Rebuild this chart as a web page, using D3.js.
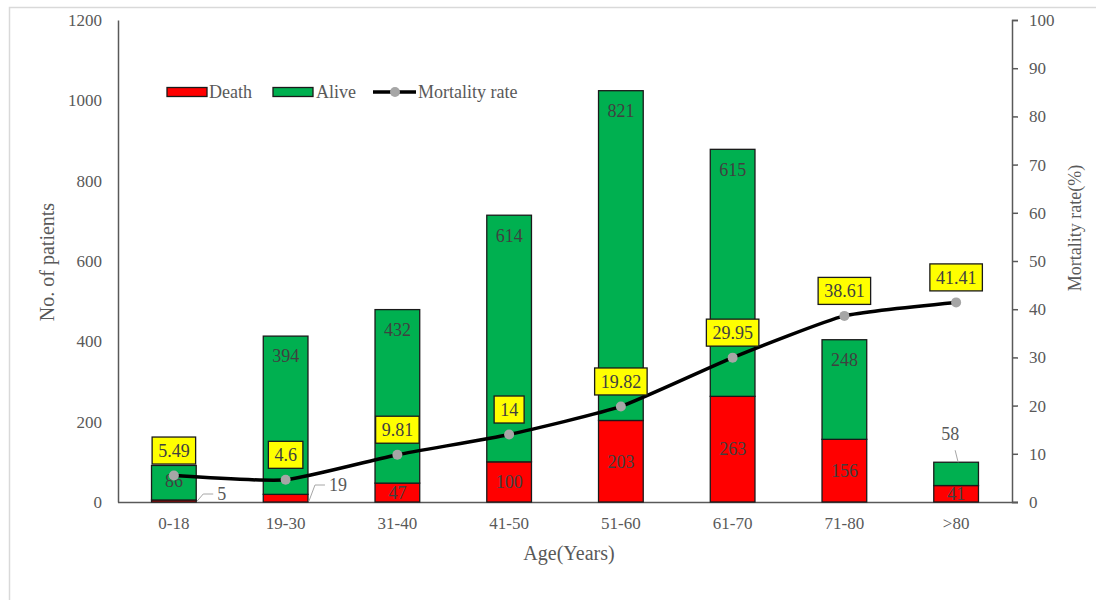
<!DOCTYPE html>
<html><head><meta charset="utf-8">
<script src="https://cdn.jsdelivr.net/npm/d3@7"></script>
<style>
html,body{margin:0;padding:0;background:#fff;}
svg{display:block;font-family:"Liberation Serif","Times New Roman",serif;}
</style></head>
<body><svg id="c" width="1096" height="600"></svg>
<script>
const categories = ["0-18","19-30","31-40","41-50","51-60","61-70","71-80",">80"];
const deathValues = [5,19,47,100,203,263,156,41];
const aliveValues = [86,394,432,614,821,615,248,58];
const mortalityRate = [5.49,4.6,9.81,14,19.82,29.95,38.61,41.41];
const leftTicks = [0,200,400,600,800,1000,1200];
const rightTicks = [0,10,20,30,40,50,60,70,80,90,100];

const svg = d3.select("#c");
const L = 118, R = 1012, T = 20, B = 502;
const tickColor = "#595959", labColor = "#404040";
const fs = 17, fl = 18;

// frame
svg.append("rect").attr("x",9.5).attr("y",7.5).attr("width",1100).attr("height",600)
  .attr("fill","none").attr("stroke","#d9d9d9").attr("stroke-width",1.5);

const x = d3.scaleBand().domain(categories).range([L,R]).paddingInner(0.6).paddingOuter(0.3);
const yL = d3.scaleLinear().domain([0,1200]).range([B,T]);
const yR = d3.scaleLinear().domain([0,100]).range([B,T]);

// left axis
const gl = svg.append("g").attr("transform",`translate(${L},0)`)
  .call(d3.axisLeft(yL).tickValues(leftTicks).tickFormat(d3.format("d")).tickSize(0).tickPadding(16));
gl.select(".domain").attr("stroke",tickColor).attr("stroke-width",1.5);
gl.selectAll("text").attr("font-family","Liberation Serif").attr("font-size",fs).attr("fill",tickColor);

// right axis
const gr = svg.append("g").attr("transform",`translate(${R},0)`)
  .call(d3.axisRight(yR).tickValues(rightTicks).tickFormat(d3.format("d")).tickSize(6).tickSizeOuter(6).tickPadding(11));
gr.select(".domain").attr("stroke",tickColor).attr("stroke-width",1.5);
gr.selectAll(".tick line").attr("stroke",tickColor).attr("stroke-width",1.5);
gr.selectAll("text").attr("font-family","Liberation Serif").attr("font-size",fs).attr("fill",tickColor);

// bottom axis
const gb = svg.append("g").attr("transform",`translate(0,${B})`)
  .call(d3.axisBottom(x).tickSize(0).tickSizeOuter(0).tickPadding(15));
gb.select(".domain").attr("d",`M${L},0.5H${R+6}`).attr("stroke",tickColor).attr("stroke-width",1.5);
gb.selectAll("text").attr("font-family","Liberation Serif").attr("font-size",fs).attr("fill",tickColor);

// axis titles
svg.append("text").attr("transform","translate(54,262) rotate(-90)").attr("text-anchor","middle")
  .attr("font-size",20).attr("fill",tickColor).text("No. of patients");
svg.append("text").attr("transform","translate(1081,228) rotate(-90)").attr("text-anchor","middle")
  .attr("font-size",18).attr("fill",tickColor).text("Mortality rate(%)");
svg.append("text").attr("x",569).attr("y",560).attr("text-anchor","middle")
  .attr("font-size",20).attr("fill",tickColor).text("Age(Years)");

// bars
const data = categories.map((c,i)=>({c, d:deathValues[i], a:aliveValues[i], r:mortalityRate[i]}));
const bw = x.bandwidth();
const gBars = svg.append("g");
data.forEach(o=>{
  gBars.append("rect").attr("x",x(o.c)).attr("width",bw)
    .attr("y",yL(o.d)).attr("height",yL(0)-yL(o.d))
    .attr("fill","#ff0000").attr("stroke","#1a1a1a").attr("stroke-width",1.3);
  gBars.append("rect").attr("x",x(o.c)).attr("width",bw)
    .attr("y",yL(o.d+o.a)).attr("height",yL(o.d)-yL(o.d+o.a))
    .attr("fill","#00b050").attr("stroke","#1a1a1a").attr("stroke-width",1.3);
});

// bar labels
data.forEach(o=>{
  const cx = x(o.c)+bw/2;
  const top = yL(o.d+o.a), mid = yL(o.d);
  const segH = mid-top;
  if (o.c === ">80") {
    svg.append("text").attr("x",cx-6).attr("y",top-29).attr("dy","0.35em").attr("text-anchor","middle")
      .attr("font-size",fl).attr("fill",tickColor).text(o.a);
    svg.append("line").attr("x1",cx-1).attr("y1",top-12).attr("x2",cx+2).attr("y2",top)
      .attr("stroke","#a6a6a6").attr("stroke-width",1);
  } else {
    const ly = segH < 45 ? (top+mid)/2 - 2 : top+20;
    svg.append("text").attr("x",cx).attr("y",ly).attr("dy","0.35em").attr("text-anchor","middle")
      .attr("font-size",fl).attr("fill",labColor).text(o.a);
  }
  const dTop = yL(o.d);
  if (yL(0)-dTop < 10) {
    const x0 = x(o.c)+bw+1, ly = o.d < 10 ? B-8 : B-17;
    svg.append("polyline")
      .attr("points",`${x0},${B-1} ${x0+6},${ly} ${x0+16},${ly}`)
      .attr("fill","none").attr("stroke","#a6a6a6").attr("stroke-width",1);
    svg.append("text").attr("x",x0+20).attr("y",ly).attr("dy","0.35em")
      .attr("font-size",fl).attr("fill",tickColor).text(o.d);
  } else {
    svg.append("text").attr("x",cx).attr("y",(dTop+yL(0))/2).attr("dy","0.35em").attr("text-anchor","middle")
      .attr("font-size",fl).attr("fill",labColor).text(o.d);
  }
});

// mortality line
const line = d3.line().x(o=>x(o.c)+bw/2).y(o=>yR(o.r)).curve(d3.curveCardinal.tension(0.5));
svg.append("path").datum(data).attr("d",line).attr("fill","none")
  .attr("stroke","#000").attr("stroke-width",3.5);
svg.append("g").selectAll("circle").data(data).join("circle")
  .attr("cx",o=>x(o.c)+bw/2).attr("cy",o=>yR(o.r)).attr("r",5).attr("fill","#a6a6a6");

// rate labels
data.forEach(o=>{
  const cx = x(o.c)+bw/2, cy = yR(o.r)-25;
  const g = svg.append("g");
  const r = g.append("rect");
  const t = g.append("text").attr("x",cx).attr("y",cy).attr("dy","0.35em").attr("text-anchor","middle")
    .attr("font-size",fl).attr("fill",labColor).text(o.r);
  const w = t.node().getComputedTextLength()+12;
  r.attr("x",cx-w/2).attr("y",cy-13.5).attr("width",w).attr("height",27)
    .attr("fill","#ffff00").attr("stroke","#1a1a1a").attr("stroke-width",1.3);
});

// legend
const lg = svg.append("g");
const ly0 = 92;
lg.append("rect").attr("x",167).attr("y",ly0-4.5).attr("width",40).attr("height",9)
  .attr("fill","#ff0000").attr("stroke","#1a1a1a").attr("stroke-width",1.3);
lg.append("text").attr("x",209).attr("y",ly0).attr("dy","0.35em").attr("font-size",fl).attr("fill",tickColor).text("Death");
lg.append("rect").attr("x",273).attr("y",ly0-4.5).attr("width",40).attr("height",9)
  .attr("fill","#00b050").attr("stroke","#1a1a1a").attr("stroke-width",1.3);
lg.append("text").attr("x",316).attr("y",ly0).attr("dy","0.35em").attr("font-size",fl).attr("fill",tickColor).text("Alive");
lg.append("line").attr("x1",373).attr("x2",416).attr("y1",ly0).attr("y2",ly0).attr("stroke","#000").attr("stroke-width",3.5);
lg.append("circle").attr("cx",395).attr("cy",ly0).attr("r",5).attr("fill","#a6a6a6");
lg.append("text").attr("x",418).attr("y",ly0).attr("dy","0.35em").attr("font-size",fl).attr("fill",tickColor).text("Mortality rate");
</script></body></html>
